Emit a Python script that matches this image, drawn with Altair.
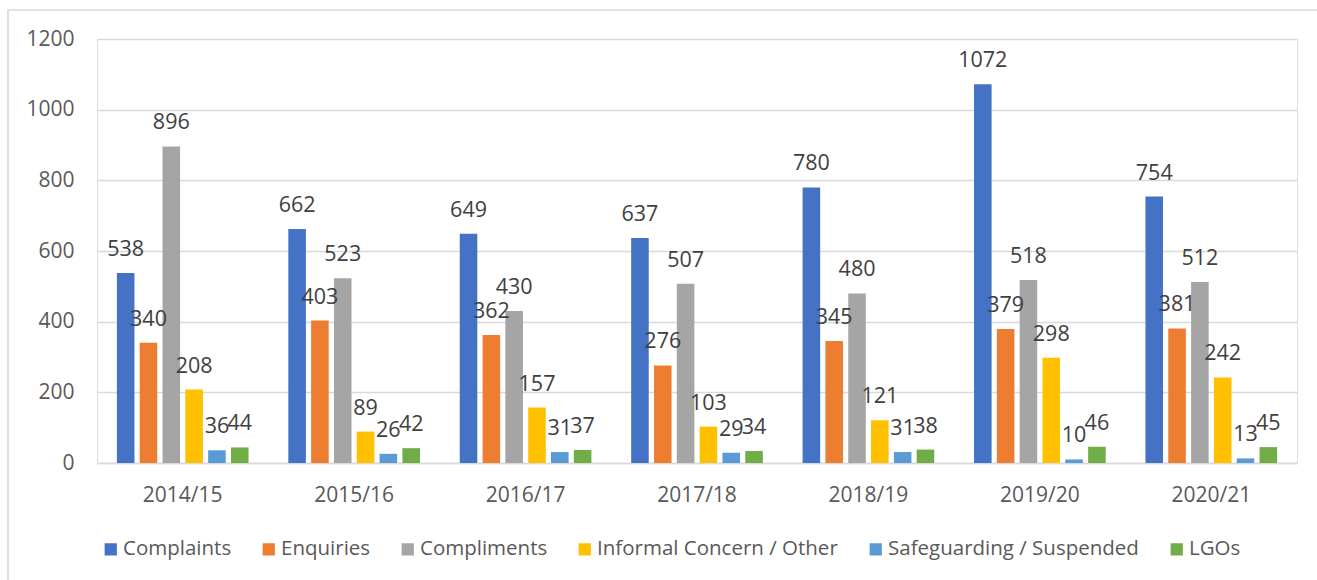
import altair as alt
import pandas as pd

# Yearly counts per category
years = ["2014/15", "2015/16", "2016/17", "2017/18", "2018/19", "2019/20", "2020/21"]
series = ["Complaints", "Enquiries", "Compliments", "Informal Concern / Other",
          "Safeguarding / Suspended", "LGOs"]
colors = ["#4472C4", "#ED7D31", "#A5A5A5", "#FFC000", "#5B9BD5", "#70AD47"]

complaints = [538, 662, 649, 637, 780, 1072, 754]
enquiries = [340, 403, 362, 276, 345, 379, 381]
compliments = [896, 523, 430, 507, 480, 518, 512]
informal = [208, 89, 157, 103, 121, 298, 242]
safeguarding = [36, 26, 31, 29, 31, 10, 13]
lgos = [44, 42, 37, 34, 38, 46, 45]

y_ticks = [0, 200, 400, 600, 800, 1000, 1200]

values_by_series = [complaints, enquiries, compliments, informal, safeguarding, lgos]
rows = []
for name, vals in zip(series, values_by_series):
    for yr, v in zip(years, vals):
        rows.append({"Year": yr, "Category": name, "Count": v})
df = pd.DataFrame(rows)

FONT = "Open Sans"

x_enc = alt.X("Year:N", sort=years, title=None,
              scale=alt.Scale(paddingInner=0.232, paddingOuter=0.116),
              axis=alt.Axis(labelAngle=0, ticks=False, tickSize=0, domainColor="#D9D9D9",
                            domainWidth=1.6, labelFontSize=21, labelColor="#595959",
                            labelPadding=21, labelFont=FONT))
xoff_enc = alt.XOffset("Category:N", sort=series,
                       scale=alt.Scale(paddingInner=0.23, paddingOuter=0))
y_enc = alt.Y("Count:Q", title=None,
              scale=alt.Scale(domain=[0, 1200], nice=False),
              axis=alt.Axis(values=y_ticks, format="d", domain=False, ticks=False,
                            tickSize=0, gridColor="#D9D9D9", gridWidth=1.6,
                            labelFontSize=21, labelColor="#595959", labelPadding=23,
                            labelFont=FONT))

bars = alt.Chart(df).mark_bar().encode(
    x=x_enc,
    xOffset=xoff_enc,
    y=y_enc,
    color=alt.Color("Category:N", sort=series,
                    scale=alt.Scale(domain=series, range=colors),
                    legend=alt.Legend(title=None, orient="none", direction="horizontal",
                                      legendX=3.5, legendY=500, columnPadding=27,
                                      symbolType="square", symbolSize=150,
                                      symbolStrokeWidth=0, labelOffset=2,
                                      labelFontSize=20.5, labelColor="#595959",
                                      labelFont=FONT, labelLimit=400, padding=0)),
)

labels = alt.Chart(df).mark_text(
    baseline="alphabetic", align="center", dy=-17,
    fontSize=21.5, font=FONT, color="#404040",
).encode(
    x=alt.X("Year:N", sort=years),
    xOffset=alt.XOffset("Category:N", sort=series),
    y="Count:Q",
    text="Count:Q",
)

# Light frame round the whole chart (top and left edges visible)
frame = alt.Chart(pd.DataFrame({"f": [0]})).mark_rect(
    fill=None, stroke="#D9D9D9", strokeWidth=1.6
).encode(
    x=alt.value(-89), x2=alt.value(1240),
    y=alt.value(-29), y2=alt.value(560),
)

chart = alt.layer(frame, bars, labels).properties(
    width=1200, height=424,
    autosize=alt.AutoSizeParams(type="none"),
    padding={"left": 97, "top": 39, "right": 20, "bottom": 117},
).configure_view(stroke=None).configure(font=FONT)

chart.save("out.html", embed_options={"renderer": "svg", "actions": False})
